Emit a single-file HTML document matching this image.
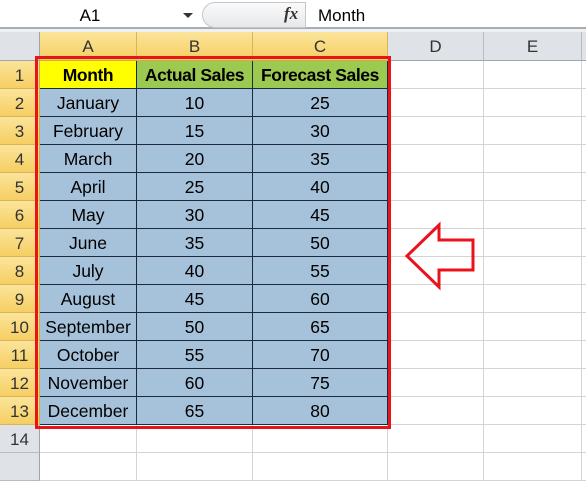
<!DOCTYPE html>
<html><head><meta charset="utf-8"><style>
body{margin:0;width:586px;height:459px;overflow:hidden;background:#fff;font-family:"Liberation Sans",sans-serif;position:relative}
div{position:absolute;box-sizing:border-box}
.ch{top:32px;height:29px;background:#dfe3e8;border-right:1px solid #b8bcc2;border-bottom:1px solid #9ea4ac;text-align:center;font-size:17px;line-height:30px;color:#333}
.ch.sel{background:linear-gradient(#fbe49a,#f6cf63);border-right-color:#d9b45a;border-bottom-color:#d9a93f}
.rh{left:0;width:40px;height:28px;background:#dfe3e8;border-bottom:1px solid #b8bcc2;border-right:1px solid #9ea4ac;text-align:center;font-size:17px;line-height:29px;color:#333}
.rh.sel{background:linear-gradient(#fbe49a,#f6cf63);border-bottom-color:#d9b45a;border-right-color:#d9a93f}
.c{height:28px;border-right:1px solid #d4d4d4;border-bottom:1px solid #d4d4d4;font-size:17.5px;line-height:29px;text-align:center;color:#000;white-space:nowrap}
.t{background:#a6c2da;border-right:1px solid #1b2a3c;border-bottom:1px solid #1b2a3c}
</style></head><body>
<div style="left:0;top:0;width:586px;height:29px;background:#fff;border-bottom:2px solid #a8adb3"></div>
<div style="left:0;top:3px;width:200px;height:26px;font-size:17px;line-height:26px;text-align:center;padding-right:20px">A1</div>
<div style="left:183px;top:13px;width:0;height:0;border-left:5px solid transparent;border-right:5px solid transparent;border-top:5px solid #333"></div>
<div style="left:202px;top:2px;width:104px;height:26px;border:1px solid #c4c8cc;border-radius:13px 0 0 13px;background:linear-gradient(#fafafa,#e6e8ea)"></div>
<div style="left:284px;top:4px;font-family:'Liberation Serif',serif;font-style:italic;font-weight:bold;font-size:17px;color:#333">fx</div>
<div style="left:318px;top:3px;height:26px;font-size:17px;line-height:26px">Month</div>
<div style="left:0;top:29px;width:586px;height:3px;background:#eef0f2"></div>
<div style="left:0;top:32px;width:40px;height:29px;background:#dfe3e8;border-right:1px solid #9ea4ac;border-bottom:1px solid #9ea4ac"></div>
<div class="ch sel" style="left:40px;width:97px">A</div>
<div class="ch sel" style="left:137px;width:116px">B</div>
<div class="ch sel" style="left:253px;width:135px">C</div>
<div class="ch" style="left:388px;width:96px">D</div>
<div class="ch" style="left:484px;width:98px">E</div>
<div class="ch" style="left:582px;width:10px"></div>
<div id="grid"></div>
<svg style="position:absolute;left:0;top:0" width="586" height="459"><polygon points="407,256 439,225 439,240 473,240 473,270 439,270 439,287" fill="none" stroke="#e8141c" stroke-width="3"/></svg>
<div style="left:35px;top:56px;width:356px;height:373px;border:3px solid #e8141c"></div>
<script>
const months=["January","February","March","April","May","June","July","August","September","October","November","December"];
const actual=[10,15,20,25,30,35,40,45,50,55,60,65];
const forecast=[25,30,35,40,45,50,55,60,65,70,75,80];
const cols=[[40,97],[137,116],[253,135],[388,96],[484,98],[582,10]];
function add(cls,x,y,w,txt,style){const d=document.createElement('div');d.className=cls;d.style.left=x+'px';d.style.top=y+'px';d.style.width=w+'px';if(style)d.style.cssText+=style;d.textContent=txt;document.body.insertBefore(d,document.getElementById('grid'));return d;}
for(let r=1;r<=15;r++){
  const y=61+28*(r-1);
  const h=add('rh'+(r<=13?' sel':''),0,y,40,r<=14?String(r):'');
  
  
  cols.forEach((c,i)=>{
    let txt='',cls='c',st='';
    if(r==1&&i<3){txt=["Month","Actual Sales","Forecast Sales"][i];cls='c t';st='font-weight:bold;letter-spacing:-0.4px;background:'+(i==0?'#ffff00':'#9cc94f')+';';}
    else if(r>=2&&r<=13&&i<3){txt=i==0?months[r-2]:String(i==1?actual[r-2]:forecast[r-2]);cls='c t';}
    const d=add(cls,c[0],y,c[1],txt,st);
    
    
  });
}
</script>
</body></html>
